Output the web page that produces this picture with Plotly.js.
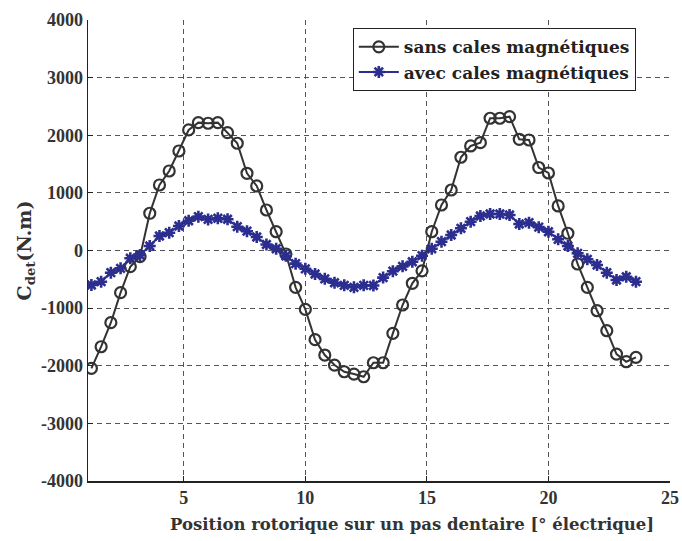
<!DOCTYPE html>
<html><head><meta charset="utf-8">
<script src="https://cdn.plot.ly/plotly-3.0.1.min.js"></script>
<style>body{margin:0;background:#fff}</style>
</head><body><div id="g" style="width:682px;height:541px"></div>
<script>
const positions = [1.2,1.6,2.0,2.4,2.8,3.2,3.6,4.0,4.4,4.8,5.2,5.6,6.0,6.4,6.8,7.2,7.6,8.0,8.4,8.8,9.2,9.6,10.0,10.4,10.8,11.2,11.6,12.0,12.4,12.8,13.2,13.6,14.0,14.4,14.8,15.2,15.6,16.0,16.4,16.8,17.2,17.6,18.0,18.4,18.8,19.2,19.6,20.0,20.4,20.8,21.2,21.6,22.0,22.4,22.8,23.2,23.6];
const sansCales = [-2045,-1670,-1253,-732,-281,-107,646,1137,1380,1727,2092,2219,2208,2219,2045,1861,1340,1120,703,326,-61,-639,-1021,-1548,-1814,-1988,-2104,-2144,-2191,-1948,-1948,-1438,-946,-569,-353,326,790,1050,1618,1814,1872,2295,2295,2323,1930,1918,1440,1345,773,299,-234,-639,-1045,-1392,-1797,-1930,-1854];
const avecCales = [-599,-541,-385,-309,-135,-78,78,252,309,425,517,587,540,559,542,413,335,235,104,30,-92,-228,-318,-408,-492,-559,-605,-639,-605,-608,-470,-359,-275,-195,-90,30,153,269,385,500,599,634,634,616,460,483,405,326,194,78,-49,-153,-252,-385,-512,-455,-541];
const xTicks = [5,10,15,20,25];
const yTicks = [-4000,-3000,-2000,-1000,0,1000,2000,3000,4000];
const seriesNames = ['sans cales magnétiques','avec cales magnétiques'];
const xTitle = 'Position rotorique sur un pas dentaire [° électrique]';

const serif = 'Liberation Serif, DejaVu Serif, serif';
const wide = 'DejaVu Serif, serif';
const traces = [
  {x: positions, y: sansCales, name: seriesNames[0], mode: 'lines+markers',
   line: {color: '#333333', width: 2},
   marker: {symbol: 'circle-open', size: 11, color: '#333333', line: {width: 2.2, color: '#333333'}}},
  {x: positions, y: avecCales, name: seriesNames[1], mode: 'lines+markers',
   line: {color: '#2b2e8e', width: 2},
   marker: {symbol: 'asterisk-open', size: 10, color: '#2b2e8e', line: {width: 2.6, color: '#2b2e8e'}}}
];
const axisFont = {family: serif, size: 18, color: '#333', weight: 'bold'};
const layout = {
  width: 682, height: 541,
  margin: {l: 88, r: 12, t: 20, b: 60},
  paper_bgcolor: '#fff', plot_bgcolor: '#fff',
  showlegend: true,
  legend: {x: 0.455, y: 0.982, xanchor: 'left', yanchor: 'top',
    bgcolor: '#fff', bordercolor: '#222', borderwidth: 1,
    font: {family: wide, size: 17, color: '#222', weight: 'bold'},
    tracegroupgap: 0, itemwidth: 40},
  xaxis: {range: [1.06, 25], tickvals: xTicks, ticktext: xTicks.map(String),
    showgrid: true, gridcolor: '#555', griddash: '5px,4px', gridwidth: 1,
    zeroline: false, showline: true, linecolor: '#222', linewidth: 1.5,
    ticks: 'inside', ticklen: 5, tickcolor: '#222',
    tickfont: axisFont},
  yaxis: {range: [-4000, 4000], tickvals: yTicks, ticktext: yTicks.map(String),
    showgrid: true, gridcolor: '#555', griddash: '5px,4px', gridwidth: 1,
    zeroline: false, showline: true, linecolor: '#222', linewidth: 1.5,
    ticks: 'inside', ticklen: 5, tickcolor: '#222',
    tickfont: axisFont,
    title: {text: 'C<sub>det</sub>(N.m)', standoff: 4,
      font: {family: wide, size: 19, color: '#333', weight: 'bold'}}},
  annotations: [{text: xTitle, xref: 'paper', yref: 'paper', x: 0.557, y: -0.095,
    xanchor: 'center', yanchor: 'middle', showarrow: false,
    font: {family: wide, size: 16.5, color: '#333', weight: 'bold'}}]
};
Plotly.newPlot('g', traces, layout, {displayModeBar: false, staticPlot: true});
</script></body></html>
